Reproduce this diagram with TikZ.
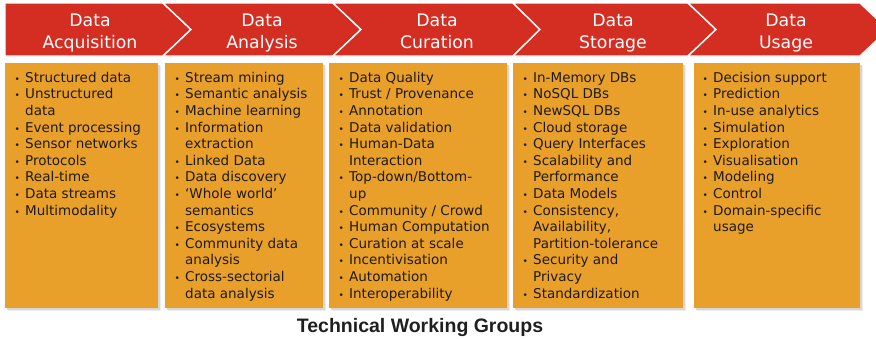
\documentclass[tikz,border=0pt]{standalone}
\usepackage{fontspec}
\setmainfont{DejaVu Sans}
\newfontfamily\titlefont{Liberation Sans}
\definecolor{hdred}{HTML}{D42D22}
\definecolor{boxorange}{HTML}{E9A02A}
\definecolor{txtdark}{HTML}{1E1A14}
\newcommand\bu{\llap{{\fontsize{9}{9}\selectfont\textbullet}\hspace{5.3pt}}}
\newcommand\itemstrut{\rule{0pt}{12pt}}
\newcommand\hdstrut{\rule{0pt}{16pt}}
\begin{document}
\begin{tikzpicture}[x=1pt,y=-1pt,
  chev/.style={fill=hdred,draw=white,line width=1.4pt,line join=miter},
  hdtext/.style={text=white,font=\fontsize{17.3}{21.6}\selectfont,align=center,anchor=north,inner sep=0pt},
  tbox/.style={fill=boxorange,draw=none,anchor=north west,inner sep=0pt,outer sep=0pt},
  shade1/.style={fill=black!7,draw=none,anchor=north west,inner sep=0pt},
  shade2/.style={fill=black!16,draw=none,anchor=north west,inner sep=0pt},
  items/.style={anchor=north west,inner sep=0pt,align=left,text=txtdark,font=\fontsize{13.5}{16.6}\selectfont},
]
\useasboundingbox (0,0) rectangle (876,338);
\clip (0,0) rectangle (876,338);

% chevrons
\path[chev] (5,3) -- (163,3) -- (191,29.5) -- (163,56) -- (5,56) -- cycle;
\path[chev] (163,3) -- (333,3) -- (361,29.5) -- (333,56) -- (163,56) -- (191,29.5) -- cycle;
\path[chev] (333,3) -- (513,3) -- (540,29.5) -- (513,56) -- (333,56) -- (361,29.5) -- cycle;
\path[chev] (513,3) -- (688,3) -- (716,29.5) -- (688,56) -- (513,56) -- (540,29.5) -- cycle;
\path[chev] (688,3) -- (860,3) -- (888,29.5) -- (860,56) -- (688,56) -- (716,29.5) -- cycle;

\node[hdtext] (h1) at (90,10.7) {\hdstrut Data\\Acquisition};
\node[hdtext] (h2) at (262,10.7) {\hdstrut Data\\Analysis};
\node[hdtext] (h3) at (437,10.7) {\hdstrut Data\\Curation};
\node[hdtext] (h4) at (613,10.7) {\hdstrut Data\\Storage};
\node[hdtext] (h5) at (786,10.7) {\hdstrut Data\\Usage};

% box shadows
\foreach \xa/\w in {5/153,165/158,329/178,513/170,694/166}{
  \node[shade1,minimum width=\w pt,minimum height=245pt] at (\xa+3,66) {};
  \node[shade2,minimum width=\w pt,minimum height=245pt] at (\xa+1.5,64.5) {};
}
% boxes
\node[tbox,minimum width=153pt,minimum height=245pt] (b1) at (5,63) {};
\node[tbox,minimum width=158pt,minimum height=245pt] (b2) at (165,63) {};
\node[tbox,minimum width=178pt,minimum height=245pt] (b3) at (329,63) {};
\node[tbox,minimum width=170pt,minimum height=245pt] (b4) at (513,63) {};
\node[tbox,minimum width=166pt,minimum height=245pt] (b5) at (694,63) {};

\node[items] (t1) at (25,70) {\itemstrut\bu Structured data\\ \bu Unstructured\\ data\\ \bu Event processing\\ \bu Sensor networks\\ \bu Protocols\\ \bu Real-time\\ \bu Data streams\\ \bu Multimodality};
\node[items] (t2) at (185,70) {\itemstrut\bu Stream mining\\ \bu Semantic analysis\\ \bu Machine learning\\ \bu Information\\ extraction\\ \bu Linked Data\\ \bu Data discovery\\ \bu ‘Whole world’\\ semantics\\ \bu Ecosystems\\ \bu Community data\\ analysis\\ \bu Cross-sectorial\\ data analysis};
\node[items] (t3) at (349,70) {\itemstrut\bu Data Quality\\ \bu Trust / Provenance\\ \bu Annotation\\ \bu Data validation\\ \bu Human-Data\\ Interaction\\ \bu Top-down/Bottom-\\ up\\ \bu Community / Crowd\\ \bu Human Computation\\ \bu Curation at scale\\ \bu Incentivisation\\ \bu Automation\\ \bu Interoperability};
\node[items] (t4) at (533,70) {\itemstrut\bu In-Memory DBs\\ \bu NoSQL DBs\\ \bu NewSQL DBs\\ \bu Cloud storage\\ \bu Query Interfaces\\ \bu Scalability and\\ Performance\\ \bu Data Models\\ \bu Consistency,\\ Availability,\\ Partition-tolerance\\ \bu Security and\\ Privacy\\ \bu Standardization};
\node[items] (t5) at (713,70) {\itemstrut\bu Decision support\\ \bu Prediction\\ \bu In-use analytics\\ \bu Simulation\\ \bu Exploration\\ \bu Visualisation\\ \bu Modeling\\ \bu Control\\ \bu Domain-specific\\ usage};

\node[anchor=base,inner sep=0pt,text=black!88,font=\titlefont\bfseries\fontsize{19.5}{22}\selectfont] (title) at (420,332) {Technical Working Groups};
\end{tikzpicture}
\end{document}
